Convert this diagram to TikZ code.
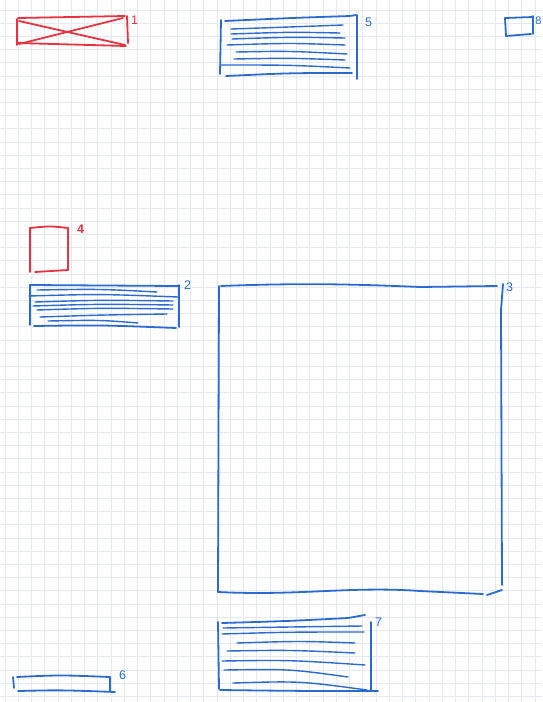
\documentclass[tikz,border=0pt]{standalone}
\usepackage{fontspec}
\setmainfont{Liberation Sans}
\definecolor{pred}{RGB}{232,50,64}
\definecolor{pblue}{RGB}{44,106,208}
\definecolor{gridc}{RGB}{228,233,244}
\begin{document}
\begin{tikzpicture}[x=1pt,y=-1pt,
  pen/.style={line width=1.8pt,line cap=round,line join=round},
  redpen/.style={pen,draw=pred},
  bluepen/.style={pen,draw=pblue},
  hair/.style={line width=1.4pt,line cap=round,draw=pblue},
  lab/.style={font=\fontsize{12.5}{12.5}\selectfont,inner sep=0pt,anchor=west},
  gridline/.style={draw=gridc,line width=0.8pt}]
\useasboundingbox (0,0) rectangle (542,702);
\fill[white] (0,0) rectangle (542,702);
% grid paper
\foreach \k in {0,...,40} \draw[gridline] ({5+13.25*\k},0) -- ({5+13.25*\k},702);
\foreach \k in {0,...,52} \draw[gridline] (0,{9.9+13.2*\k}) -- (542,{9.9+13.2*\k});

% ---------- box 1 (red, crossed) ----------
\draw[redpen] (18,18) -- (125,16);
\draw[redpen] (18,43) -- (126,46);
\draw[redpen] (17,19) -- (17,45);
\draw[redpen] (127,16) -- (128,43);
\draw[redpen] (19,21) -- (125,45);
\draw[redpen] (19,44) -- (123,18);
\node[lab,text=pred] (l1) at (131,20) {1};

% ---------- box 5 (blue, lines) ----------
\draw[bluepen] (221,20) -- (220,74);
\draw[bluepen] (225,21) .. controls (290,18) .. (350,16) -- (356,15);
\draw[bluepen] (357,15) -- (357,79);
\draw[hair] (231,29) .. controls (290,27) .. (343,25);
\draw[hair] (231,34) .. controls (290,32) .. (340,33);
\draw[hair] (232,39) .. controls (290,37) .. (345,38);
\draw[hair] (227,45) .. controls (290,43) .. (345,45);
\draw[hair] (236,52) .. controls (290,51) .. (347,54);
\draw[hair] (234,59) .. controls (290,58) .. (345,60);
\draw[hair] (221,65) .. controls (290,65) .. (350,68);
\draw[bluepen] (226,76) .. controls (290,73) .. (352,73);
\node[lab,text=pblue] (l5) at (365,22) {5};

% ---------- box 8 (small blue) ----------
\draw[bluepen] (505,18) -- (533,17);
\draw[bluepen] (505,18) -- (506,36);
\draw[bluepen] (506,36) -- (531,34);
\draw[bluepen] (533,16) -- (533,34);
\node[lab,text=pblue,font=\fontsize{11}{11}\selectfont] (l8) at (535.2,21) {8};

% ---------- box 4 (red square) ----------
\draw[redpen] (30,228) -- (30,272);
\draw[redpen] (30,228) .. controls (50,226) .. (68,228);
\draw[redpen] (68,228) -- (68,270);
\draw[redpen] (35,272) -- (68,270);
\node[lab,text=pred,font=\bfseries\fontsize{12.5}{12.5}\selectfont] (l4) at (77,229) {4};

% ---------- box 2 (blue, lines) ----------
\draw[bluepen] (30,285) -- (30,325);
\draw[bluepen] (30,285) -- (178,286);
\draw[bluepen] (179,285) -- (179,327);
\draw[bluepen] (34,326) .. controls (100,325) .. (176,328);
\draw[hair] (37,290) .. controls (100,289) .. (157,292);
\draw[hair] (29,296) .. controls (100,294) .. (178,297);
\draw[hair] (35,302) .. controls (100,300) .. (173,301);
\draw[hair] (33,306) .. controls (100,304) .. (173,305);
\draw[hair] (37,310) .. controls (100,308) .. (173,309);
\draw[hair] (40,317) .. controls (100,315) .. (167,314);
\draw[hair] (48,321) .. controls (100,320) .. (138,323);
\node[lab,text=pblue] (l2) at (184,285) {2};

% ---------- box 3 (big blue square) ----------
\draw[bluepen] (219,286) -- (218,592);
\draw[bluepen] (221,286) .. controls (300,283) and (350,284) .. (420,287) -- (497,286);
\draw[bluepen] (503,284) -- (501,310) -- (502,585);
\draw[bluepen] (218,592) .. controls (300,596) and (350,586) .. (420,591) -- (483,594);
\draw[bluepen] (487,595) -- (502,590);
\node[lab,text=pblue] (l3) at (506,287) {3};

% ---------- box 7 (blue, lines) ----------
\draw[bluepen] (218,622) -- (219,689);
\draw[bluepen] (222,623) .. controls (290,621) .. (348,618) -- (365,615);
\draw[bluepen] (371,622) -- (371,690);
\draw[bluepen] (220,690) .. controls (300,691) .. (378,691);
\draw[hair] (223,628) .. controls (290,627) .. (362,626);
\draw[hair] (222,634) .. controls (290,632) .. (364,632);
\draw[hair] (237,643) .. controls (300,641) .. (355,643);
\draw[hair] (227,651) .. controls (290,650) .. (355,653);
\draw[hair] (222,661) .. controls (290,660) .. (365,665);
\draw[hair] (224,670) .. controls (290,669) .. (348,677);
\draw[hair] (233,683) .. controls (300,681) .. (367,690);
\node[lab,text=pblue] (l7) at (375,622) {7};

% ---------- box 6 (thin blue) ----------
\draw[bluepen] (13,677) -- (14,688);
\draw[bluepen] (17,677) .. controls (60,675) .. (110,677);
\draw[bluepen] (110,677) -- (110,691);
\draw[bluepen] (18,691) .. controls (60,690) .. (115,692);
\node[lab,text=pblue] (l6) at (119,675) {6};
\end{tikzpicture}
\end{document}
